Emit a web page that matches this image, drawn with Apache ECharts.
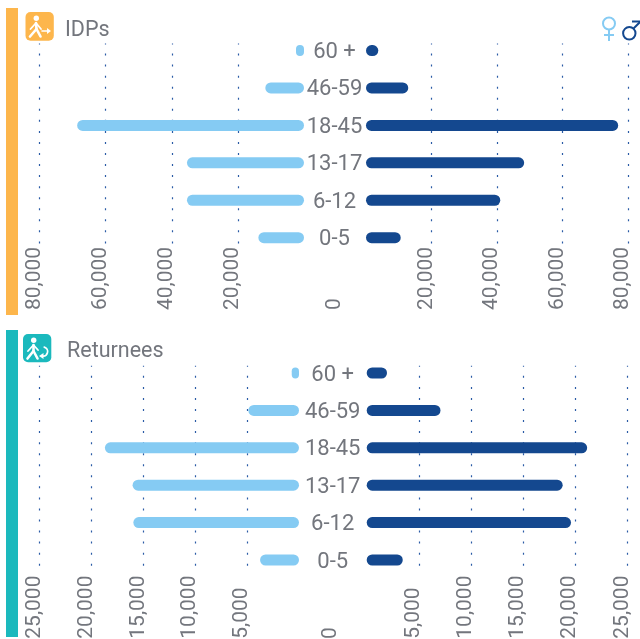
<!DOCTYPE html>
<html><head><meta charset="utf-8">
<style>html,body{margin:0;padding:0;background:#fff;overflow:hidden}#c{width:640px;height:639px}</style>
<script src="https://cdn.jsdelivr.net/npm/echarts@6/dist/echarts.min.js"></script>
</head><body><div id="c"></div>
<script>
const categories = ['60 +', '46-59', '18-45', '13-17', '6-12', '0-5'];
const idpFemale = [2420, 11700, 68600, 35400, 35400, 13800];
const idpMale = [3750, 12900, 77000, 48300, 41000, 10600];
const returneeFemale = [700, 4880, 18700, 16030, 15960, 3750];
const returneeMale = [1950, 7080, 21150, 18800, 19600, 3460];
const idpTicks = [20000, 40000, 60000, 80000];
const returneeTicks = [5000, 10000, 15000, 20000, 25000];

const FEMALE = '#85CBF3', MALE = '#14488F', ORANGE = '#FDB64C', TEAL = '#1BB9BD';
const TXT = '#73767D', FONT = 'Roboto';
const fmt = v => v.toLocaleString('en-US');

function xAxis(gridIndex, inverse, max, ticks, margin) {
  return {
    type: 'value', gridIndex, inverse, min: 0, max, offset: -13,
    axisLine: { show: false }, splitLine: { show: false },
    axisTick: { show: true, inside: true, length: 200, customValues: ticks,
      lineStyle: { color: '#2A5BA6', width: 1.2, type: [2, 9.05] } },
    axisLabel: { show: true, customValues: ticks, rotate: 90, align: 'left', verticalAlign: 'bottom',
      margin, color: TXT, fontFamily: FONT, fontWeight: 400, fontSize: 21, lineHeight: 10, formatter: fmt }
  };
}
function yAxis(gridIndex, showLabel, margin) {
  return {
    type: 'category', gridIndex, data: categories, inverse: true,
    axisLine: { show: false }, axisTick: { show: false }, splitLine: { show: false },
    axisLabel: { show: showLabel, margin, align: 'center', verticalAlign: 'top', lineHeight: 4, color: TXT, fontFamily: FONT, fontWeight: 400, fontSize: 22 }
  };
}
function bars(i, data, color) {
  return { type: 'bar', xAxisIndex: i, yAxisIndex: i, data, barWidth: 11, silent: true,
    itemStyle: { color, borderRadius: 5.5 } };
}
const white = { fill: '#fff' };
const stroke = w => ({ stroke: '#fff', lineWidth: w, fill: null, lineCap: 'round', lineJoin: 'round' });
function zero(x, y) {
  return { type: 'text', x, y, rotation: Math.PI / 2,
    style: { text: '0', fill: TXT, font: '400 21px ' + FONT, align: 'left', verticalAlign: 'bottom' } };
}
const graphic = [
  { type: 'rect', shape: { x: 6, y: 8, width: 12, height: 307 }, style: { fill: ORANGE } },
  { type: 'rect', shape: { x: 6, y: 330, width: 12, height: 307 }, style: { fill: TEAL } },
  { type: 'rect', shape: { x: 25.5, y: 12, width: 28.3, height: 28.7, r: 5 }, style: { fill: ORANGE } },
  { type: 'circle', shape: { cx: 36.3, cy: 18.3, r: 2.7 }, style: white },
  { type: 'polyline', shape: { points: [[36, 23], [36.5, 29], [30, 36.5]] }, style: stroke(2.6) },
  { type: 'polyline', shape: { points: [[36.5, 29], [40.5, 36.5]] }, style: stroke(2.6) },
  { type: 'polyline', shape: { points: [[30.5, 29], [36, 23], [41, 29]] }, style: stroke(1.8) },
  { type: 'line', shape: { x1: 42, y1: 31, x2: 48, y2: 31 }, style: stroke(1.6) },
  { type: 'polygon', shape: { points: [[47, 28], [51, 31], [47, 34]] }, style: white },
  { type: 'rect', shape: { x: 23, y: 334, width: 28.3, height: 28.3, r: 5 }, style: { fill: TEAL } },
  { type: 'circle', shape: { cx: 33.7, cy: 340.3, r: 2.7 }, style: white },
  { type: 'polyline', shape: { points: [[33.5, 345], [33.5, 351], [27.5, 358.5]] }, style: stroke(2.6) },
  { type: 'polyline', shape: { points: [[33.5, 351], [37.5, 358.5]] }, style: stroke(2.6) },
  { type: 'polyline', shape: { points: [[28, 351], [33.5, 345], [38, 350]] }, style: stroke(1.8) },
  { type: 'arc', shape: { cx: 43, cy: 351.5, r: 4.6, startAngle: -1.3, endAngle: 1.7, clockwise: true }, style: stroke(1.7) },
  { type: 'polygon', shape: { points: [[39, 356], [43.5, 353], [43.5, 359]] }, style: white },
  { type: 'circle', shape: { cx: 609, cy: 23.5, r: 6 }, style: { fill: null, stroke: FEMALE, lineWidth: 2 } },
  { type: 'line', shape: { x1: 609, y1: 30, x2: 609, y2: 41 }, style: { stroke: FEMALE, lineWidth: 2 } },
  { type: 'line', shape: { x1: 604, y1: 35, x2: 614, y2: 35 }, style: { stroke: FEMALE, lineWidth: 2 } },
  { type: 'circle', shape: { cx: 629.3, cy: 33.3, r: 6.2 }, style: { fill: null, stroke: MALE, lineWidth: 2 } },
  { type: 'line', shape: { x1: 633.5, y1: 28.5, x2: 640, y2: 22 }, style: { stroke: MALE, lineWidth: 2 } },
  { type: 'polyline', shape: { points: [[632, 21.5], [640, 21.5]] }, style: { stroke: MALE, lineWidth: 2, fill: null } },
  zero(345.5, 310), zero(341, 639)
];
const g = (left, width, top, height) => ({ left, width, top, height, outerBoundsMode: 'none' });
const chart = echarts.init(document.getElementById('c'), null, { renderer: 'canvas' });
chart.setOption({
  animation: false, backgroundColor: '#fff',
  title: [
    { text: 'IDPs', left: 65, top: 20, padding: 0, textStyle: { color: TXT, fontFamily: FONT, fontWeight: 400, fontSize: 21.5 } },
    { text: 'Returnees', left: 67, top: 341, padding: 0, textStyle: { color: TXT, fontFamily: FONT, fontWeight: 400, fontSize: 21.5 } }
  ],
  grid: [
    g(39.5, 264.5, 31.8, 224.6),
    g(366, 262, 31.8, 224.6),
    g(39.5, 259.5, 354.3, 224.4),
    g(366.7, 260.6, 354.3, 224.4)
  ],
  xAxis: [
    xAxis(0, true, 80000, idpTicks, 66.6),
    xAxis(1, false, 80000, idpTicks, 66.6),
    xAxis(2, true, 25000, returneeTicks, 73),
    xAxis(3, false, 25000, returneeTicks, 73)
  ],
  yAxis: [yAxis(0, false, 0), yAxis(1, true, 31.5), yAxis(2, false, 0), yAxis(3, true, 34)],
  series: [
    bars(0, idpFemale, FEMALE), bars(1, idpMale, MALE),
    bars(2, returneeFemale, FEMALE), bars(3, returneeMale, MALE)
  ],
  graphic
});
</script></body></html>
